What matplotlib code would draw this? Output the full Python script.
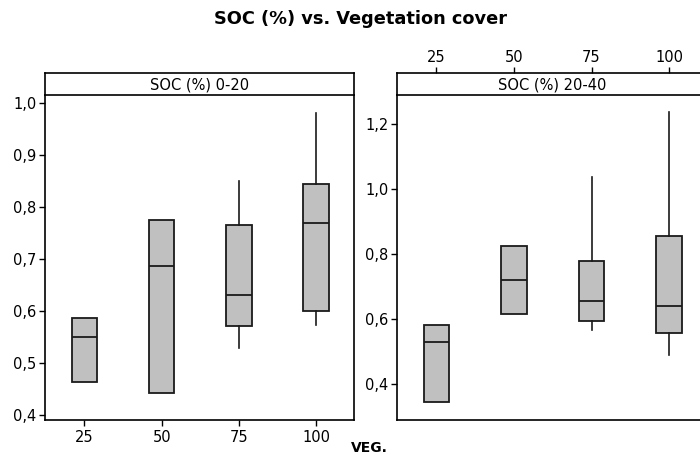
import matplotlib
matplotlib.use("Agg")
import matplotlib.pyplot as plt
from matplotlib.ticker import FuncFormatter

categories = ["25", "50", "75", "100"]

# Panel 1: SOC (%) 0-20
p1_whislo = [0.464, 0.442, 0.528, 0.573]
p1_q1 = [0.464, 0.442, 0.571, 0.599]
p1_med = [0.549, 0.686, 0.630, 0.770]
p1_q3 = [0.587, 0.775, 0.765, 0.844]
p1_whishi = [0.587, 0.775, 0.851, 0.981]

# Panel 2: SOC (%) 20-40
p2_whislo = [0.344, 0.616, 0.567, 0.490]
p2_q1 = [0.344, 0.616, 0.595, 0.558]
p2_med = [0.530, 0.719, 0.656, 0.640]
p2_q3 = [0.583, 0.824, 0.779, 0.856]
p2_whishi = [0.583, 0.824, 1.036, 1.236]

p1_yticks = [0.4, 0.5, 0.6, 0.7, 0.8, 0.9, 1.0]
p2_yticks = [0.4, 0.6, 0.8, 1.0, 1.2]

plt.rcParams['font.family'] = ['DejaVu Sans']

fig = plt.figure(figsize=(7, 4.7), dpi=100)

def stats(lo, q1, med, q3, hi):
    return [dict(whislo=a, q1=b, med=c, q3=d, whishi=e, fliers=[])
            for a, b, c, d, e in zip(lo, q1, med, q3, hi)]

comma = FuncFormatter(lambda v, p: f"{v:.1f}".replace(".", ","))

def panel(rect, strip_rect, st, title, yticks, ylim, top_ticks):
    ax = fig.add_axes(rect)
    pos = list(range(1, len(categories) + 1))
    ax.bxp(st, positions=pos, widths=0.33, patch_artist=True,
           showcaps=False, showfliers=False,
           boxprops=dict(facecolor="#c0c0c0", edgecolor="#1a1a1a", linewidth=1.3),
           medianprops=dict(color="#1a1a1a", linewidth=1.3),
           whiskerprops=dict(color="#1a1a1a", linewidth=1.2))
    ax.set_xlim(0.49, 4.49)
    ax.set_ylim(*ylim)
    ax.set_yticks(yticks)
    ax.yaxis.set_major_formatter(comma)
    ax.tick_params(axis="y", direction="out", length=4, width=1, labelsize=10.5, pad=2)
    for s in ax.spines.values():
        s.set_linewidth(1.2)
    ax.spines["top"].set_visible(False)
    sax = fig.add_axes(strip_rect)
    sax.set_xlim(0.49, 4.49)
    sax.set_ylim(0, 1)
    sax.set_yticks([])
    for s in sax.spines.values():
        s.set_linewidth(1.2)
    sax.text(0.5, 0.45, title, transform=sax.transAxes, ha="center", va="center", fontsize=10.5)
    if top_ticks:
        ax.set_xticks(pos)
        ax.tick_params(axis="x", bottom=False, labelbottom=False)
        sax.set_xticks(pos)
        sax.set_xticklabels(categories)
        sax.tick_params(axis="x", top=True, labeltop=True, bottom=False, labelbottom=False,
                        direction="out", length=4, width=1, labelsize=10.5, pad=2)
    else:
        ax.set_xticks(pos)
        ax.set_xticklabels(categories)
        ax.tick_params(axis="x", direction="out", length=4, width=1, labelsize=10.5, pad=3)
        sax.set_xticks([])
    return ax

panel([0.0643, 0.1064, 0.4414, 0.6915], [0.0643, 0.7979, 0.4414, 0.0468],
      stats(p1_whislo, p1_q1, p1_med, p1_q3, p1_whishi), "SOC (%) 0-20",
      p1_yticks, (0.390, 1.016), False)
panel([0.5671, 0.1064, 0.4429, 0.6915], [0.5671, 0.7979, 0.4429, 0.0468],
      stats(p2_whislo, p2_q1, p2_med, p2_q3, p2_whishi), "SOC (%) 20-40",
      p2_yticks, (0.290, 1.288), True)

fig.text(361 / 700, 1 - 19 / 470, "SOC (%) vs. Vegetation cover", ha="center", va="center",
         fontsize=12.8, fontweight="bold")
fig.text(369 / 700, 1 - 448 / 470, "VEG.", ha="center", va="center", fontsize=10, fontweight="bold")

fig.savefig("out.png", dpi=100)
